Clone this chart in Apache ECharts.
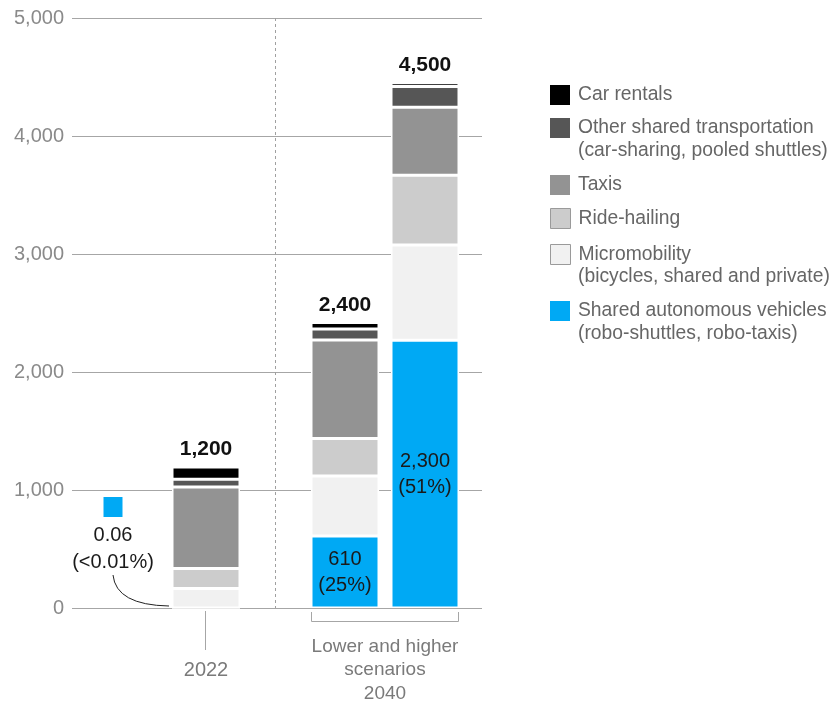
<!DOCTYPE html>
<html>
<head>
<meta charset="utf-8">
<script src="https://cdn.jsdelivr.net/npm/echarts@6/dist/echarts.min.js"></script>
<style>
html,body{margin:0;padding:0;background:#fff;}
#chart{width:830px;height:703px;}
</style>
</head>
<body>
<div id="chart"></div>
<script>
// ---- data ----
const scenarios = ['2022', 'Lower 2040', 'Higher 2040'];
const carRentals = [105, 55, 31];
const otherShared = [65, 92, 176];
const taxis = [690, 836, 576];
const rideHailing = [170, 318, 591];
const micromobility = [165, 508, 807];
const sharedAutonomous = [0.06, 610, 2270];
const totalLabels = ['1,200', '2,400', '4,500'];
const savLabels = ['', '610\n(25%)', '2,300\n(51%)'];
const yTicks = [0, 1000, 2000, 3000, 4000, 5000];
const seriesNames = ['Car rentals', 'Other shared transportation', 'Taxis', 'Ride-hailing', 'Micromobility', 'Shared autonomous vehicles'];
const seriesSubNames = ['', '(car-sharing, pooled shuttles)', '', '', '(bicycles, shared and private)', '(robo-shuttles, robo-taxis)'];
const savNote = ['0.06', '(<0.01%)'];
const xLabel2022 = '2022';
const xLabel2040 = 'Lower and higher\nscenarios\n2040';

// ---- layout ----
const FONT = '"Liberation Sans", Arial, sans-serif';
const PLOT = { left: 72, right: 348, top: 18, bottom: 95 };
const barCenters = [206, 345, 425];
const BAR_W = 68;

const colors = {
  'Car rentals': '#000000',
  'Other shared transportation': '#565656',
  'Taxis': '#939393',
  'Ride-hailing': '#cccccc',
  'Micromobility': '#f1f1f1',
  'Shared autonomous vehicles': '#00a9f4'
};
const valuesByName = {
  'Car rentals': carRentals,
  'Other shared transportation': otherShared,
  'Taxis': taxis,
  'Ride-hailing': rideHailing,
  'Micromobility': micromobility,
  'Shared autonomous vehicles': sharedAutonomous
};
const stackOrder = ['Shared autonomous vehicles', 'Micromobility', 'Ride-hailing', 'Taxis', 'Other shared transportation', 'Car rentals'];

const yMin = yTicks[0], yMax = yTicks[yTicks.length - 1];

// background grid (axis + gridlines) + one grid per bar
const grids = [{ left: PLOT.left, right: PLOT.right, top: PLOT.top, bottom: PLOT.bottom }];
const xAxes = [{ type: 'category', gridIndex: 0, data: [''], show: false }];
const yAxes = [{
  type: 'value', gridIndex: 0, min: yMin, max: yMax, interval: 1000,
  axisLine: { show: false }, axisTick: { show: false },
  splitLine: { lineStyle: { color: '#a6a6a6', width: 1 } },
  axisLabel: { fontFamily: FONT, fontSize: 20, color: '#8a8a8a', margin: 8 }
}];
scenarios.forEach(function (sc, i) {
  grids.push({ left: barCenters[i] - BAR_W / 2, width: BAR_W, top: PLOT.top, bottom: PLOT.bottom });
  xAxes.push({ type: 'category', gridIndex: i + 1, data: [sc], show: false });
  yAxes.push({ type: 'value', gridIndex: i + 1, min: yMin, max: yMax, show: false, splitLine: { show: false } });
});

const series = [{ type: 'line', xAxisIndex: 0, yAxisIndex: 0, data: [], silent: true }];
scenarios.forEach(function (sc, i) {
  stackOrder.forEach(function (name) {
    const s = {
      name: name,
      type: 'bar',
      xAxisIndex: i + 1, yAxisIndex: i + 1,
      stack: 'g' + i,
      barWidth: BAR_W,
      data: [valuesByName[name][i]],
      itemStyle: { color: colors[name], borderColor: '#ffffff', borderWidth: 1.5 },
      emphasis: { disabled: true }
    };
    if (name === 'Car rentals') {
      s.label = {
        show: true, position: 'top', distance: 7,
        formatter: function () { return totalLabels[i]; },
        fontFamily: FONT, fontSize: 21, fontWeight: 'bold', color: '#111'
      };
    }
    if (name === 'Shared autonomous vehicles' && savLabels[i]) {
      s.label = {
        show: true, position: 'inside',
        formatter: function () { return savLabels[i]; },
        fontFamily: FONT, fontSize: 20, lineHeight: 26, color: '#1a1a1a'
      };
    }
    series.push(s);
  });
});

const legendTops = [85, 118, 175, 208, 244, 301];
const legends = seriesNames.map(function (name, i) {
  const bordered = (name === 'Ride-hailing' || name === 'Micromobility');
  return {
    left: 550, top: legendTops[i], orient: 'vertical', padding: 0,
    icon: 'rect', itemWidth: 20, itemHeight: 20, selectedMode: false,
    data: [{ name: name, itemStyle: bordered ? { borderColor: '#9a9a9a', borderWidth: 1 } : { borderWidth: 0 } }],
    textStyle: { fontFamily: FONT, fontSize: 19.3, color: '#666666', padding: [0, 0, 0, 3] }
  };
});

const chart = echarts.init(document.getElementById('chart'), null, { renderer: 'canvas' });
chart.setOption({
  animation: false,
  backgroundColor: '#ffffff',
  grid: grids,
  legend: legends,
  xAxis: xAxes,
  yAxis: yAxes,
  series: series
});

// ---- annotations positioned through the chart's scales ----
const y0 = chart.convertToPixel({ yAxisIndex: 0 }, 0);
const yTop = chart.convertToPixel({ yAxisIndex: 0 }, yMax);
const left0 = barCenters[0] - BAR_W / 2;
const dividerX = Math.round(((barCenters[0] + BAR_W / 2) + (barCenters[1] - BAR_W / 2)) / 2) - 0.5;
const ax = left0 - 59;
const gray = '#a6a6a6';
const graphics = [];
graphics.push({ type: 'line', shape: { x1: dividerX, y1: yTop, x2: dividerX, y2: y0 }, style: { stroke: '#a0a0a0', lineWidth: 1, lineDash: [3, 3] }, silent: true });
// note for 2022 SAV value
graphics.push({ type: 'rect', shape: { x: ax - 9.5, y: y0 - 111, width: 19, height: 20 }, style: { fill: colors['Shared autonomous vehicles'] }, silent: true });
graphics.push({ type: 'text', x: ax, y: y0 - 73, style: { text: savNote[0], fontFamily: FONT, fontSize: 20, fill: '#1a1a1a', align: 'center', verticalAlign: 'middle' }, silent: true });
graphics.push({ type: 'text', x: ax, y: y0 - 46, style: { text: savNote[1], fontFamily: FONT, fontSize: 20, fill: '#1a1a1a', align: 'center', verticalAlign: 'middle' }, silent: true });
graphics.push({ type: 'bezierCurve', shape: { x1: ax, y1: y0 - 33, cpx1: ax + 3, cpy1: y0 - 3, x2: left0 - 3, y2: y0 - 2 }, style: { stroke: '#222', lineWidth: 1, fill: null }, silent: true });
// 2022 tick + label
graphics.push({ type: 'line', shape: { x1: barCenters[0] - 0.5, y1: y0 + 3, x2: barCenters[0] - 0.5, y2: y0 + 42 }, style: { stroke: gray, lineWidth: 1 }, silent: true });
graphics.push({ type: 'text', x: barCenters[0], y: y0 + 62, style: { text: xLabel2022, fontFamily: FONT, fontSize: 20, fill: '#7a7a7a', align: 'center', verticalAlign: 'middle' }, silent: true });
// 2040 bracket + label
const bl = barCenters[1] - BAR_W / 2, br = barCenters[2] + BAR_W / 2;
graphics.push({ type: 'polyline', shape: { points: [[bl + 0.5, y0 + 4], [bl + 0.5, y0 + 13.5], [br - 0.5, y0 + 13.5], [br - 0.5, y0 + 4]] }, style: { stroke: gray, lineWidth: 1, fill: null }, silent: true });
graphics.push({ type: 'text', x: (bl + br) / 2, y: y0 + 62, style: { text: xLabel2040, fontFamily: FONT, fontSize: 19, lineHeight: 23.5, fill: '#7a7a7a', align: 'center', verticalAlign: 'middle' }, silent: true });
// legend second lines
seriesSubNames.forEach(function (t, i) {
  if (!t) return;
  graphics.push({ type: 'text', x: 578, y: legendTops[i] + 10 + 23, style: { text: t, fontFamily: FONT, fontSize: 19.3, fill: '#666666', verticalAlign: 'middle' }, silent: true });
});
chart.setOption({ graphic: graphics });
</script>
</body>
</html>
